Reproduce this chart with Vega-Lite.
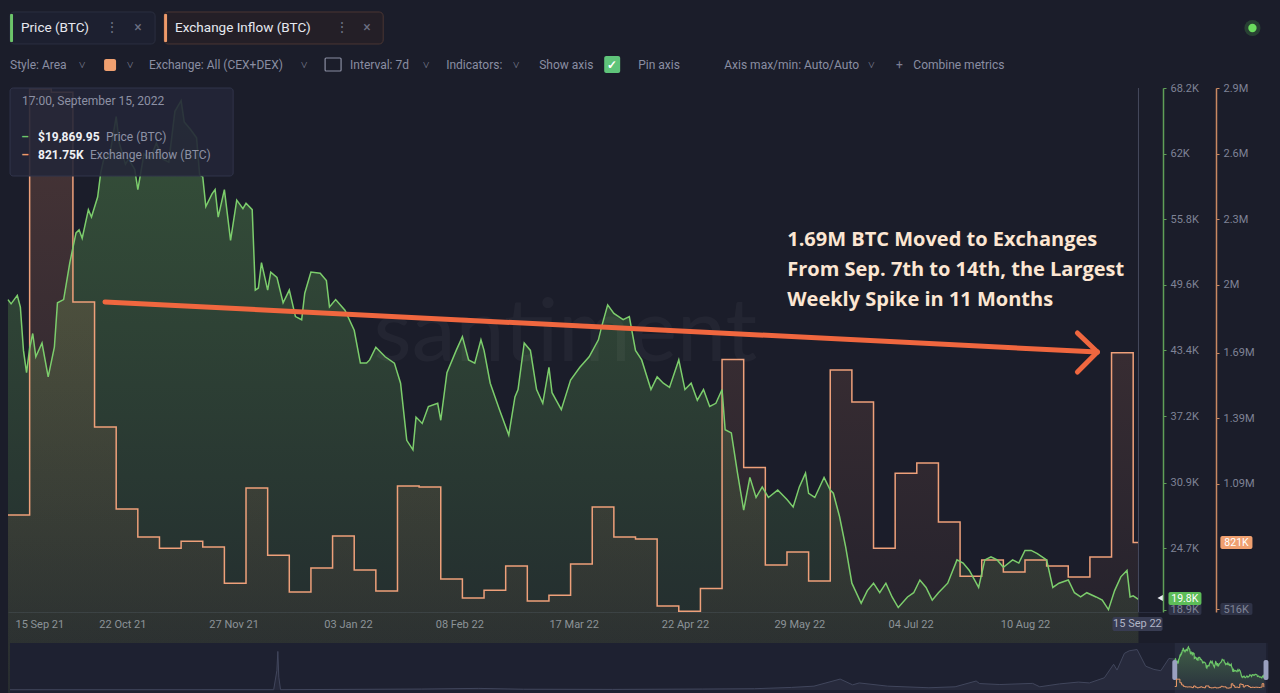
{
"$schema":"https://vega.github.io/schema/vega-lite/v6.json",
"width":1153,"height":524,
"autosize":{"type":"none"},
"padding":{"left":8,"top":88,"right":119,"bottom":81},
"background":"#1b1d2a",
"config":{"view":{"stroke":null},"font":"Roboto"},
"datasets":{
"price":[
{"date":"2021-09-15","value":48200},{"date":"2021-09-16","value":47800},{"date":"2021-09-18","value":48600},{"date":"2021-09-19","value":47500},{"date":"2021-09-20","value":43400},{"date":"2021-09-21","value":41300},{"date":"2021-09-22","value":43600},{"date":"2021-09-23","value":45000},{"date":"2021-09-24","value":42800},{"date":"2021-09-26","value":44100},{"date":"2021-09-28","value":40900},{"date":"2021-09-30","value":43700},{"date":"2021-10-01","value":47900},{"date":"2021-10-03","value":48200},{"date":"2021-10-05","value":51700},{"date":"2021-10-07","value":54500},{"date":"2021-10-08","value":54800},{"date":"2021-10-09","value":54000},{"date":"2021-10-11","value":56700},{"date":"2021-10-12","value":56000},{"date":"2021-10-14","value":57900},{"date":"2021-10-15","value":60200},{"date":"2021-10-16","value":61500},{"date":"2021-10-18","value":62000},{"date":"2021-10-20","value":65500},{"date":"2021-10-21","value":63000},{"date":"2021-10-23","value":61000},{"date":"2021-10-24","value":61500},{"date":"2021-10-26","value":60500},{"date":"2021-10-27","value":58600},{"date":"2021-10-29","value":62000},{"date":"2021-10-31","value":61500},{"date":"2021-11-02","value":63000},{"date":"2021-11-04","value":61500},{"date":"2021-11-06","value":61200},{"date":"2021-11-08","value":66000},{"date":"2021-11-10","value":67000},{"date":"2021-11-11","value":65000},{"date":"2021-11-13","value":64300},{"date":"2021-11-15","value":63500},{"date":"2021-11-16","value":60000},{"date":"2021-11-17","value":59800},{"date":"2021-11-18","value":57000},{"date":"2021-11-20","value":58200},{"date":"2021-11-21","value":58600},{"date":"2021-11-22","value":56000},{"date":"2021-11-24","value":58600},{"date":"2021-11-26","value":53800},{"date":"2021-11-28","value":57600},{"date":"2021-11-30","value":56800},{"date":"2021-12-01","value":57300},{"date":"2021-12-03","value":56700},{"date":"2021-12-04","value":49100},{"date":"2021-12-05","value":49300},{"date":"2021-12-06","value":51700},{"date":"2021-12-08","value":49100},{"date":"2021-12-09","value":50800},{"date":"2021-12-11","value":50300},{"date":"2021-12-13","value":47900},{"date":"2021-12-15","value":49100},{"date":"2021-12-17","value":46600},{"date":"2021-12-19","value":46300},{"date":"2021-12-20","value":48800},{"date":"2021-12-22","value":50800},{"date":"2021-12-25","value":50700},{"date":"2021-12-27","value":50000},{"date":"2021-12-28","value":47500},{"date":"2021-12-30","value":48200},{"date":"2022-01-02","value":47200},{"date":"2022-01-05","value":45300},{"date":"2022-01-07","value":42200},{"date":"2022-01-09","value":42200},{"date":"2022-01-10","value":42500},{"date":"2022-01-12","value":43700},{"date":"2022-01-15","value":42800},{"date":"2022-01-18","value":42200},{"date":"2022-01-20","value":40300},{"date":"2022-01-22","value":34900},{"date":"2022-01-24","value":34000},{"date":"2022-01-25","value":37100},{"date":"2022-01-27","value":36500},{"date":"2022-01-29","value":38100},{"date":"2022-02-01","value":38400},{"date":"2022-02-02","value":36800},{"date":"2022-02-04","value":41300},{"date":"2022-02-07","value":43400},{"date":"2022-02-09","value":44700},{"date":"2022-02-11","value":42500},{"date":"2022-02-13","value":42200},{"date":"2022-02-15","value":44400},{"date":"2022-02-16","value":43400},{"date":"2022-02-18","value":40300},{"date":"2022-02-21","value":37800},{"date":"2022-02-24","value":35400},{"date":"2022-02-26","value":39000},{"date":"2022-02-27","value":39700},{"date":"2022-03-01","value":44100},{"date":"2022-03-03","value":43400},{"date":"2022-03-05","value":39700},{"date":"2022-03-07","value":38400},{"date":"2022-03-09","value":41800},{"date":"2022-03-10","value":39400},{"date":"2022-03-13","value":37800},{"date":"2022-03-16","value":40600},{"date":"2022-03-19","value":41800},{"date":"2022-03-22","value":42800},{"date":"2022-03-25","value":44400},{"date":"2022-03-26","value":45600},{"date":"2022-03-28","value":47700},{"date":"2022-03-30","value":46900},{"date":"2022-04-02","value":46300},{"date":"2022-04-04","value":46600},{"date":"2022-04-06","value":43400},{"date":"2022-04-08","value":42500},{"date":"2022-04-11","value":39700},{"date":"2022-04-13","value":40900},{"date":"2022-04-15","value":40300},{"date":"2022-04-17","value":39900},{"date":"2022-04-20","value":42500},{"date":"2022-04-22","value":39700},{"date":"2022-04-24","value":40300},{"date":"2022-04-26","value":38700},{"date":"2022-04-28","value":39700},{"date":"2022-04-30","value":38100},{"date":"2022-05-02","value":38400},{"date":"2022-05-04","value":39700},{"date":"2022-05-05","value":35900},{"date":"2022-05-07","value":35600},{"date":"2022-05-09","value":31800},{"date":"2022-05-11","value":28300},{"date":"2022-05-13","value":31400},{"date":"2022-05-15","value":29500},{"date":"2022-05-17","value":30500},{"date":"2022-05-19","value":29500},{"date":"2022-05-22","value":30200},{"date":"2022-05-25","value":29300},{"date":"2022-05-27","value":28600},{"date":"2022-05-29","value":30500},{"date":"2022-05-31","value":31800},{"date":"2022-06-01","value":29900},{"date":"2022-06-03","value":29500},{"date":"2022-06-06","value":31400},{"date":"2022-06-08","value":30200},{"date":"2022-06-09","value":29900},{"date":"2022-06-11","value":27700},{"date":"2022-06-13","value":24800},{"date":"2022-06-15","value":21400},{"date":"2022-06-18","value":19500},{"date":"2022-06-20","value":20700},{"date":"2022-06-22","value":21400},{"date":"2022-06-24","value":20500},{"date":"2022-06-26","value":21400},{"date":"2022-06-28","value":20100},{"date":"2022-06-30","value":19100},{"date":"2022-07-03","value":20100},{"date":"2022-07-05","value":20500},{"date":"2022-07-07","value":21700},{"date":"2022-07-09","value":21000},{"date":"2022-07-11","value":19800},{"date":"2022-07-13","value":20500},{"date":"2022-07-16","value":21400},{"date":"2022-07-19","value":23600},{"date":"2022-07-21","value":23300},{"date":"2022-07-23","value":22600},{"date":"2022-07-26","value":21000},{"date":"2022-07-28","value":23600},{"date":"2022-07-30","value":23900},{"date":"2022-08-01","value":23600},{"date":"2022-08-03","value":22900},{"date":"2022-08-06","value":23600},{"date":"2022-08-08","value":23300},{"date":"2022-08-10","value":24500},{"date":"2022-08-12","value":24500},{"date":"2022-08-14","value":24200},{"date":"2022-08-17","value":23600},{"date":"2022-08-19","value":21000},{"date":"2022-08-21","value":21400},{"date":"2022-08-24","value":21700},{"date":"2022-08-26","value":20500},{"date":"2022-08-28","value":20100},{"date":"2022-08-30","value":20500},{"date":"2022-09-02","value":20100},{"date":"2022-09-04","value":19800},{"date":"2022-09-06","value":18900},{"date":"2022-09-08","value":20700},{"date":"2022-09-10","value":22000},{"date":"2022-09-12","value":22600},{"date":"2022-09-13","value":20100},{"date":"2022-09-14","value":20200},{"date":"2022-09-15T17:00:00Z","value":19870}
],
"inflow":[
{"date":"2021-09-15","value":947000},{"date":"2021-09-22","value":2895000},{"date":"2021-09-29","value":2880000},{"date":"2021-10-06","value":1921000},{"date":"2021-10-13","value":1350000},{"date":"2021-10-20","value":975000},{"date":"2021-10-27","value":847000},{"date":"2021-11-03","value":796000},{"date":"2021-11-10","value":828000},{"date":"2021-11-17","value":801000},{"date":"2021-11-24","value":636000},{"date":"2021-12-01","value":1071000},{"date":"2021-12-08","value":764000},{"date":"2021-12-15","value":595000},{"date":"2021-12-22","value":705000},{"date":"2021-12-29","value":851000},{"date":"2022-01-05","value":696000},{"date":"2022-01-12","value":600000},{"date":"2022-01-19","value":1080000},{"date":"2022-01-26","value":1075000},{"date":"2022-02-02","value":655000},{"date":"2022-02-09","value":568000},{"date":"2022-02-16","value":604000},{"date":"2022-02-23","value":714000},{"date":"2022-03-02","value":554000},{"date":"2022-03-09","value":581000},{"date":"2022-03-16","value":723000},{"date":"2022-03-23","value":984000},{"date":"2022-03-30","value":847000},{"date":"2022-04-06","value":838000},{"date":"2022-04-13","value":531000},{"date":"2022-04-20","value":508000},{"date":"2022-04-27","value":612000},{"date":"2022-05-04","value":1658000},{"date":"2022-05-11","value":1165000},{"date":"2022-05-18","value":719000},{"date":"2022-05-25","value":778000},{"date":"2022-06-01","value":646000},{"date":"2022-06-08","value":1610000},{"date":"2022-06-15","value":1464000},{"date":"2022-06-22","value":796000},{"date":"2022-06-29","value":1139000},{"date":"2022-07-06","value":1185000},{"date":"2022-07-13","value":915000},{"date":"2022-07-20","value":668000},{"date":"2022-07-27","value":742000},{"date":"2022-08-03","value":687000},{"date":"2022-08-10","value":742000},{"date":"2022-08-17","value":714000},{"date":"2022-08-24","value":664000},{"date":"2022-08-31","value":755000},{"date":"2022-09-07","value":1689000},{"date":"2022-09-14","value":821750},{"date":"2022-09-15T17:00:00Z","value":821750}
],
"nav":[
{"date":"2008-09-01","value":400},{"date":"2011-08-15","value":500},{"date":"2011-08-28","value":30000},{"date":"2011-09-01","value":60000},{"date":"2011-09-05","value":20000},{"date":"2011-09-12","value":500},{"date":"2013-04-10","value":1500},{"date":"2013-12-01","value":2500},{"date":"2014-06-01","value":1200},{"date":"2015-06-01","value":900},{"date":"2016-06-01","value":1500},{"date":"2017-01-01","value":2000},{"date":"2017-06-01","value":4000},{"date":"2017-09-01","value":6000},{"date":"2017-12-17","value":17000},{"date":"2018-02-06","value":8000},{"date":"2018-03-05","value":11000},{"date":"2018-06-29","value":6000},{"date":"2018-12-15","value":3500},{"date":"2019-04-01","value":5000},{"date":"2019-06-26","value":14000},{"date":"2019-07-10","value":10000},{"date":"2019-10-01","value":8500},{"date":"2020-02-12","value":10300},{"date":"2020-03-12","value":5000},{"date":"2020-06-01","value":9500},{"date":"2020-08-17","value":12300},{"date":"2020-10-01","value":11000},{"date":"2020-12-01","value":19000},{"date":"2021-01-08","value":40000},{"date":"2021-01-22","value":31000},{"date":"2021-02-21","value":57000},{"date":"2021-03-13","value":61000},{"date":"2021-04-14","value":63000},{"date":"2021-05-19","value":37000},{"date":"2021-06-22","value":32000},{"date":"2021-07-20","value":30000},{"date":"2021-08-22","value":49000},{"date":"2021-09-15","value":48000}
]
},
"resolve":{"scale":{"x":"independent","y":"independent"}},
"layer":[
{
"data":{"name":"price"},
"mark":{"type":"area","color":{"gradient":"linear","x1":0,"y1":0,"x2":0,"y2":1,"stops":[{"offset":0,"color":"rgba(110,190,90,0.32)"},{"offset":1,"color":"rgba(110,190,90,0.03)"}]}},
"encoding":{
"x":{"field":"date","type":"temporal","scale":{"type":"utc","domain":[{"year":2021,"month":9,"date":15,"utc":true},{"year":2022,"month":9,"date":23,"utc":true}],"nice":false},
"axis":{"values":[{"year":2021,"month":9,"date":15,"utc":true},{"year":2021,"month":10,"date":22,"utc":true},{"year":2021,"month":11,"date":27,"utc":true},{"year":2022,"month":1,"date":3,"utc":true},{"year":2022,"month":2,"date":8,"utc":true},{"year":2022,"month":3,"date":17,"utc":true},{"year":2022,"month":4,"date":22,"utc":true},{"year":2022,"month":5,"date":29,"utc":true},{"year":2022,"month":7,"date":4,"utc":true},{"year":2022,"month":8,"date":10,"utc":true}],"labelExpr":"utcFormat(datum.value, '%d %b %y')","title":null,"grid":false,"ticks":false,"domainColor":"#2a2e3f","labelColor":"#8a8ea1","labelFontSize":11,"labelPadding":6,"labelFlush":true,"labelFlushOffset":-7}},
"y":{"field":"value","type":"quantitative","scale":{"domain":[18677,68200],"nice":false,"zero":false},
"axis":{"orient":"right","offset":2,"values":[18900,24700,30900,37200,43400,49600,55800,62000,68200],"labelExpr":"format(datum.value/1000, '.3~g') + 'K'","title":null,"grid":false,"tickSize":3,"tickColor":"#5f9f57","domainColor":"#5f9f57","domainWidth":1.5,"labelColor":"#7f8396","labelFontSize":11,"labelPadding":4,"zindex":1}}
}
},
{
"encoding":{
"x":{"field":"date","type":"temporal","scale":{"type":"utc","domain":[{"year":2021,"month":9,"date":15,"utc":true},{"year":2022,"month":9,"date":23,"utc":true}],"nice":false},"axis":null},
"y":{"field":"value","type":"quantitative","scale":{"domain":[504000,2900000],"nice":false,"zero":false},
"axis":{"orient":"right","offset":55,"values":[516000,1090000,1390000,1690000,2000000,2300000,2600000,2900000],"labelExpr":"datum.value >= 1000000 ? format(datum.value/1000000, '.3~g') + 'M' : format(datum.value/1000, '.3~g') + 'K'","title":null,"grid":false,"tickSize":3,"tickColor":"#c98962","domainColor":"#c98962","domainWidth":1.5,"labelColor":"#7f8396","labelFontSize":11,"labelPadding":4,"zindex":1}}
},
"layer":[
{"data":{"name":"inflow"},"mark":{"type":"area","interpolate":"step-after","color":{"gradient":"linear","x1":0,"y1":0,"x2":0,"y2":1,"stops":[{"offset":0,"color":"rgba(235,140,100,0.22)"},{"offset":1,"color":"rgba(235,140,100,0.02)"}]}},"encoding":{}},
{"data":{"name":"inflow"},"mark":{"type":"line","interpolate":"step-after","color":"#eea07a","strokeWidth":1.5},"encoding":{}},
{"data":{"values":[{"date":"2022-10-12T05:00:00Z","date2":"2022-10-22T14:00:00Z","value":851200,"value2":791700}],"format":{"parse":{"date2":"date"}}},"mark":{"type":"rect","fill":"#f0a070","cornerRadius":2},"encoding":{"x2":{"field":"date2"},"y2":{"field":"value2"}}},
{"data":{"values":[{"date":"2022-10-12T05:00:00Z","date2":"2022-10-22T14:00:00Z","value":544800,"value2":489900}],"format":{"parse":{"date2":"date"}}},"mark":{"type":"rect","fill":"#2f3347","cornerRadius":2},"encoding":{"x2":{"field":"date2"},"y2":{"field":"value2"}}},
{"data":{"values":[{"date":"2022-10-17T10:00:00Z","value":821750,"text":"821K"}]},"mark":{"type":"text","color":"#ffffff","fontSize":10.5,"align":"center","baseline":"middle"},"encoding":{"text":{"field":"text"}}}
]
},
{
"encoding":{
"x":{"field":"date","type":"temporal","scale":{"type":"utc","domain":[{"year":2021,"month":9,"date":15,"utc":true},{"year":2022,"month":9,"date":23,"utc":true}],"nice":false},"axis":null},
"y":{"field":"value","type":"quantitative","scale":{"domain":[18677,68200],"nice":false,"zero":false},"axis":null}
},
"layer":[
{"data":{"values":[{"date":"2022-03-14T07:00:00Z","value":44856,"text":"santiment"}]},"mark":{"type":"text","font":"Lato","fontSize":88,"color":"#ffffff","opacity":0.035,"align":"center","baseline":"middle"},"encoding":{"text":{"field":"text"}}},
{"data":{"name":"price"},"mark":{"type":"line","color":"#7ccd6c","strokeWidth":1.5},"encoding":{}},
{"data":{"values":[{"date":"2022-09-15T17:00:00Z","value":68200,"value2":18677}]},"mark":{"type":"rule","color":"#464a5e","strokeWidth":1},"encoding":{"y2":{"field":"value2"}}},
{"data":{"values":[{"date":"2021-09-15T16:00:00Z","date2":"2021-11-26T20:00:00Z","value":68200,"value2":59883}],"format":{"parse":{"date2":"date"}}},"mark":{"type":"rect","fill":"#232637","fillOpacity":0.9,"stroke":"#30344a","strokeWidth":1,"cornerRadius":3},"encoding":{"x2":{"field":"date2"},"y2":{"field":"value2"}}},
{"data":{"values":[{"date":"2021-09-19T13:00:00Z","value":66971,"text":"17:00, September 15, 2022"}]},"mark":{"type":"text","color":"#8d91a4","fontSize":12,"align":"left","baseline":"middle"},"encoding":{"text":{"field":"text"}}},
{"data":{"values":[{"date":"2021-09-20T12:00:00Z","value":63569,"text":"–"}]},"mark":{"type":"text","color":"#6fc56a","fontSize":12,"fontWeight":"bold","align":"center","baseline":"middle"},"encoding":{"text":{"field":"text"}}},
{"data":{"values":[{"date":"2021-09-20T12:00:00Z","value":61868,"text":"–"}]},"mark":{"type":"text","color":"#ee9a6a","fontSize":12,"fontWeight":"bold","align":"center","baseline":"middle"},"encoding":{"text":{"field":"text"}}},
{"data":{"values":[{"date":"2021-09-24T17:00:00Z","value":63569,"text":"$19,869.95"},{"date":"2021-09-24T17:00:00Z","value":61868,"text":"821.75K"}]},"mark":{"type":"text","color":"#f0f1f5","fontSize":12,"fontWeight":"bold","align":"left","baseline":"middle"},"encoding":{"text":{"field":"text"}}},
{"data":{"values":[{"date":"2021-10-16T17:00:00Z","value":63569,"text":"Price (BTC)"},{"date":"2021-10-11T13:00:00Z","value":61868,"text":"Exchange Inflow (BTC)"}]},"mark":{"type":"text","color":"#8d91a4","fontSize":12,"align":"left","baseline":"middle"},"encoding":{"text":{"field":"text"}}},
{"data":{"values":[{"date":"2021-10-16T09:00:00Z","value":47975,"date2":"2022-09-02T10:00:00Z","value2":43249}],"format":{"parse":{"date2":"date"}}},"mark":{"type":"rule","color":"#f0673f","strokeWidth":5,"strokeCap":"round"},"encoding":{"x2":{"field":"date2"},"y2":{"field":"value2"}}},
{"data":{"values":[{"date":"2022-08-26T23:00:00Z","value":45045,"date2":"2022-09-02T10:00:00Z","value2":43249},{"date":"2022-08-26T23:00:00Z","value":41359,"date2":"2022-09-02T10:00:00Z","value2":43249}],"format":{"parse":{"date2":"date"}}},"mark":{"type":"rule","color":"#f0673f","strokeWidth":5,"strokeCap":"round"},"encoding":{"x2":{"field":"date2"},"y2":{"field":"value2"}}},
{"data":{"values":[{"date":"2022-05-25T02:00:00Z","value":54780,"text":"1.69M BTC Moved to Exchanges\nFrom Sep. 7th to 14th, the Largest\nWeekly Spike in 11 Months"}]},"mark":{"type":"text","font":"Open Sans","fontSize":20,"fontWeight":"bold","color":"#fce6d2","align":"left","baseline":"top","lineBreak":"\n","lineHeight":30},"encoding":{"text":{"field":"text"}}},
{"data":{"values":[{"date":"2021-09-15T16:00:00Z","date2":"2021-11-01T14:00:00Z","value":75383,"value2":72359}],"format":{"parse":{"date2":"date"}}},"mark":{"type":"rect","fill":"#1d2030","stroke":"#2b2f40","strokeWidth":1,"cornerRadius":4},"encoding":{"x2":{"field":"date2"},"y2":{"field":"value2"}}},
{"data":{"values":[{"date":"2021-11-04T12:00:00Z","date2":"2022-01-14T09:00:00Z","value":75383,"value2":72359}],"format":{"parse":{"date2":"date"}}},"mark":{"type":"rect","fill":"#241f27","stroke":"#4a3633","strokeWidth":1,"cornerRadius":4},"encoding":{"x2":{"field":"date2"},"y2":{"field":"value2"}}},
{"data":{"values":[{"date":"2021-09-15T16:00:00Z","date2":"2021-09-16T15:00:00Z","value":75194,"value2":72548}],"format":{"parse":{"date2":"date"}}},"mark":{"type":"rect","fill":"#6cc46a","cornerRadius":1},"encoding":{"x2":{"field":"date2"},"y2":{"field":"value2"}}},
{"data":{"values":[{"date":"2021-11-04T12:00:00Z","date2":"2021-11-05T11:00:00Z","value":75194,"value2":72548}],"format":{"parse":{"date2":"date"}}},"mark":{"type":"rect","fill":"#ee9a6a","cornerRadius":1},"encoding":{"x2":{"field":"date2"},"y2":{"field":"value2"}}},
{"data":{"values":[{"date":"2021-09-19T05:00:00Z","value":73871,"text":"Price (BTC)"},{"date":"2021-11-08T01:00:00Z","value":73871,"text":"Exchange Inflow (BTC)"}]},"mark":{"type":"text","color":"#e6e8ef","fontSize":13.5,"align":"left","baseline":"middle"},"encoding":{"text":{"field":"text"}}},
{"data":{"values":[{"date":"2021-10-18T16:00:00Z","value":73871,"text":"⋮"},{"date":"2021-10-27T02:00:00Z","value":73871,"text":"×"},{"date":"2022-01-01T02:00:00Z","value":73871,"text":"⋮"},{"date":"2022-01-09T04:00:00Z","value":73871,"text":"×"}]},"mark":{"type":"text","color":"#6c7083","fontSize":14,"align":"center","baseline":"middle"},"encoding":{"text":{"field":"text"}}},
{"data":{"values":[{"date":"2021-09-15T16:00:00Z","value":70374,"text":"Style: Area"},{"date":"2021-10-30T15:00:00Z","value":70374,"text":"Exchange: All (CEX+DEX)"},{"date":"2022-01-03T16:00:00Z","value":70374,"text":"Interval: 7d"},{"date":"2022-02-03T18:00:00Z","value":70374,"text":"Indicators:"},{"date":"2022-03-05T20:00:00Z","value":70374,"text":"Show axis"},{"date":"2022-04-06T21:00:00Z","value":70374,"text":"Pin axis"},{"date":"2022-05-04T17:00:00Z","value":70374,"text":"Axis max/min: Auto/Auto"},{"date":"2022-07-04T21:00:00Z","value":70374,"text":"Combine metrics"}]},"mark":{"type":"text","color":"#8a8ea2","fontSize":12,"align":"left","baseline":"middle"},"encoding":{"text":{"field":"text"}}},
{"data":{"values":[{"date":"2021-10-08T23:00:00Z","value":70374,"text":"˅"},{"date":"2021-10-24T12:00:00Z","value":70374,"text":"˅"},{"date":"2021-12-19T19:00:00Z","value":70374,"text":"˅"},{"date":"2022-01-28T07:00:00Z","value":70374,"text":"˅"},{"date":"2022-02-26T10:00:00Z","value":70374,"text":"˅"},{"date":"2022-06-21T07:00:00Z","value":70374,"text":"˅"},{"date":"2022-06-30T08:00:00Z","value":70374,"text":"+"}]},"mark":{"type":"text","color":"#7b7f93","fontSize":12,"align":"center","baseline":"middle"},"encoding":{"text":{"field":"text"}}},
{"data":{"values":[{"date":"2021-10-16T02:00:00Z","date2":"2021-10-19T23:00:00Z","value":70941,"value2":69807}],"format":{"parse":{"date2":"date"}}},"mark":{"type":"rect","fill":"#f0a070","cornerRadius":2},"encoding":{"x2":{"field":"date2"},"y2":{"field":"value2"}}},
{"data":{"values":[{"date":"2021-12-26T14:00:00Z","date2":"2021-12-31T18:00:00Z","value":71035,"value2":69807}],"format":{"parse":{"date2":"date"}}},"mark":{"type":"rect","fill":"transparent","stroke":"#8a8ea2","strokeWidth":1.2,"cornerRadius":1},"encoding":{"x2":{"field":"date2"},"y2":{"field":"value2"}}},
{"data":{"values":[{"date":"2022-03-26T21:00:00Z","date2":"2022-04-01T01:00:00Z","value":71224,"value2":69618}],"format":{"parse":{"date2":"date"}}},"mark":{"type":"rect","fill":"#5fc47a","cornerRadius":2},"encoding":{"x2":{"field":"date2"},"y2":{"field":"value2"}}},
{"data":{"values":[{"date":"2022-03-29T11:00:00Z","value":70374,"text":"✓"}]},"mark":{"type":"text","color":"#ffffff","fontSize":12,"fontWeight":"bold","align":"center","baseline":"middle"},"encoding":{"text":{"field":"text"}}},
{"data":{"values":[{"date":"2022-10-22T14:00:00Z","value":73871}]},"mark":{"type":"point","filled":true,"size":260,"color":"#5fd35a","opacity":0.2},"encoding":{}},
{"data":{"values":[{"date":"2022-10-22T14:00:00Z","value":73871}]},"mark":{"type":"point","filled":true,"size":70,"color":"#6bdc5e","opacity":1},"encoding":{}},
{"data":{"values":[{"date":"2022-09-25T10:00:00Z","date2":"2022-10-06T02:00:00Z","value":19527,"value2":18393}],"format":{"parse":{"date2":"date"}}},"mark":{"type":"rect","fill":"#2f3347","cornerRadius":2},"encoding":{"x2":{"field":"date2"},"y2":{"field":"value2"}}},
{"data":{"values":[{"date":"2022-09-25T10:00:00Z","date2":"2022-10-06T02:00:00Z","value":20566,"value2":19338}],"format":{"parse":{"date2":"date"}}},"mark":{"type":"rect","fill":"#5dbd58","cornerRadius":2},"encoding":{"x2":{"field":"date2"},"y2":{"field":"value2"}}},
{"data":{"values":[{"date":"2022-09-30T17:00:00Z","value":19952,"text":"19.8K"}]},"mark":{"type":"text","color":"#ffffff","fontSize":10.5,"align":"center","baseline":"middle"},"encoding":{"text":{"field":"text"}}},
{"data":{"values":[{"date":"2022-09-22T19:00:00Z","value":20000}]},"mark":{"type":"point","shape":"triangle-left","filled":true,"size":45,"color":"#e8eaf0","opacity":1},"encoding":{}},
{"data":{"values":[{"date":"2022-09-07T07:00:00Z","date2":"2022-09-23T12:00:00Z","value":18203,"value2":16880}],"format":{"parse":{"date2":"date"}}},"mark":{"type":"rect","fill":"#383c52","cornerRadius":2},"encoding":{"x2":{"field":"date2"},"y2":{"field":"value2"}}},
{"data":{"values":[{"date":"2022-09-15T09:00:00Z","value":17542,"text":"15 Sep 22"}]},"mark":{"type":"text","color":"#b0b4c6","fontSize":11,"align":"center","baseline":"middle"},"encoding":{"text":{"field":"text"}}}
]
},
{
"encoding":{
"x":{"field":"date","type":"temporal","scale":{"type":"utc","domain":[{"year":2008,"month":9,"date":1,"utc":true},{"year":2022,"month":9,"date":23,"utc":true}],"range":[2,1258],"nice":false},"axis":null},
"y":{"field":"value","type":"quantitative","scale":{"domain":[0,70000],"range":[602,557],"nice":false,"zero":false},"axis":null}
},
"layer":[
{"data":{"values":[{"date":"2008-09-01","date2":"2022-10-01","value":73111,"value2":-4667}],"format":{"parse":{"date2":"date"}}},"mark":{"type":"rect","fill":"#1e2131"},"encoding":{"x2":{"field":"date2"},"y2":{"field":"value2"}}},
{"data":{"values":[{"date":"2021-09-15","date2":"2022-09-23","value":73111,"value2":-4667}],"format":{"parse":{"date2":"date"}}},"mark":{"type":"rect","fill":"#262a3c"},"encoding":{"x2":{"field":"date2"},"y2":{"field":"value2"}}},
{"data":{"name":"nav"},"mark":{"type":"area","fill":"#2b2f42","line":{"color":"#41465c","strokeWidth":1}},"encoding":{}},
{"data":{"name":"price"},"mark":{"type":"area","color":{"gradient":"linear","x1":0,"y1":0,"x2":0,"y2":1,"stops":[{"offset":0,"color":"rgba(110,190,90,0.35)"},{"offset":1,"color":"rgba(110,190,90,0.05)"}]}},"encoding":{}},
{"data":{"name":"price"},"mark":{"type":"line","color":"#6cc468","strokeWidth":1.2},"encoding":{}},
{"data":{"values":[{"date":"2021-09-05","date2":"2021-09-25","value":46667,"value2":15556},{"date":"2022-09-13","date2":"2022-10-03","value":46667,"value2":15556}],"format":{"parse":{"date2":"date"}}},"mark":{"type":"rect","fill":"#9aa0bf","cornerRadius":2},"encoding":{"x2":{"field":"date2"},"y2":{"field":"value2"}}}
]
},
{
"data":{"name":"inflow"},
"mark":{"type":"line","interpolate":"step-after","color":"#ee9a6a","strokeWidth":1},
"encoding":{
"x":{"field":"date","type":"temporal","scale":{"type":"utc","domain":[{"year":2008,"month":9,"date":1,"utc":true},{"year":2022,"month":9,"date":23,"utc":true}],"range":[2,1258],"nice":false},"axis":null},
"y":{"field":"value","type":"quantitative","scale":{"domain":[0,12000000],"range":[602,557],"nice":false,"zero":false},"axis":null}
}
}
]
}
